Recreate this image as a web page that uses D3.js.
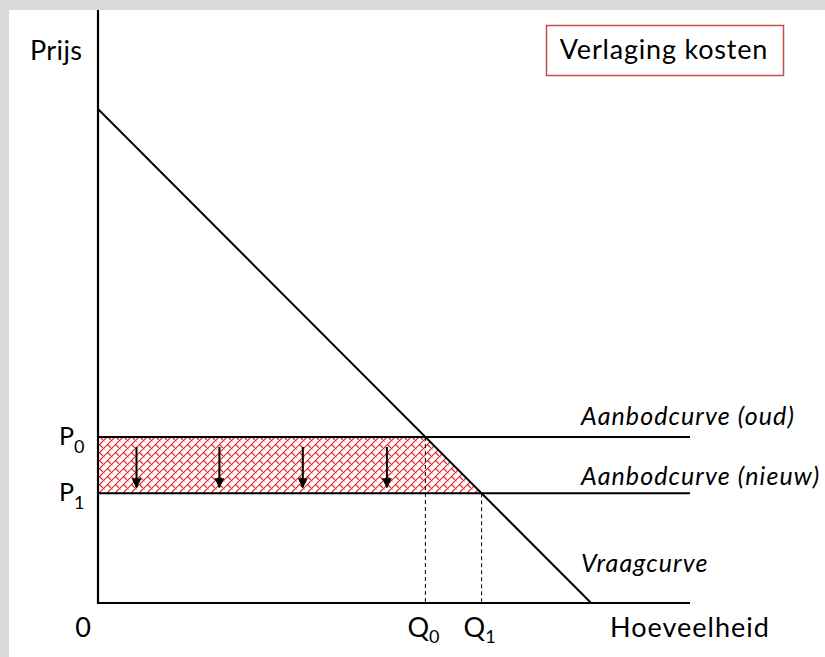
<!DOCTYPE html>
<html><head><meta charset="utf-8">
<script src="https://cdn.jsdelivr.net/npm/d3@7"></script>
<style>html,body{margin:0;padding:0;background:#d9d9d9;}svg{display:block;}</style>
</head><body>
<script>
// --- data (schematic market diagram) ---
const demand = [83.3, 83.3];            // [price intercept, quantity intercept]
const priceLevels = [28, 18.5];           // P0 (old supply), P1 (new supply)
const priceLabels = ["P", "P"];
const priceSubs = ["0", "1"];
const quantityLabels = ["Q", "Q"];
const quantitySubs = ["0", "1"];
const supplyLabels = ["Aanbodcurve (oud)", "Aanbodcurve (nieuw)"];
const demandLabel = "Vraagcurve";
const arrowQ = [6.5, 20.5, 34.6, 48.8];
const axisMax = [100, 100];
const title = "Verlaging kosten";
const yTitle = "Prijs", xTitle = "Hoeveelheid", origin = "0";

const W = 825, H = 657;
const svg = d3.select("body").append("svg").attr("width", W).attr("height", H);
svg.append("rect").attr("x",0).attr("y",0).attr("width",W).attr("height",H).attr("fill","#d9d9d9");
svg.append("rect").attr("x",9).attr("y",10).attr("width",W-9).attr("height",H-10).attr("fill","#fff");

const x = d3.scaleLinear().domain([0, axisMax[0]]).range([98, 690]);
const y = d3.scaleLinear().domain([0, axisMax[1]]).range([603, 10]);

const font = "Lato, 'Open Sans', sans-serif";
const qAt = p => demand[1] * (1 - p / demand[0]);
const Q = priceLevels.map(qAt);

// pattern: diagonal brick
const defs = svg.append("defs");
const pat = defs.append("pattern").attr("id","brick").attr("patternUnits","userSpaceOnUse")
  .attr("width",8).attr("height",8);
pat.append("rect").attr("width",8).attr("height",8).attr("fill","#ffffff");
pat.append("path").attr("d","M-1,9 L9,-1 M3.5,4.5 L8.5,9.5 M-4.5,-3.5 L0.5,1.5")
  .attr("fill","none").attr("stroke","#e02020").attr("stroke-width",1.1);

// hatched area
const area = [[0, priceLevels[0]], [Q[0], priceLevels[0]], [Q[1], priceLevels[1]], [0, priceLevels[1]]];
svg.append("path").attr("d", d3.line().x(d => x(d[0])).y(d => y(d[1]))(area) + "Z")
  .attr("fill","url(#brick)").attr("stroke","none");

// dashed verticals
svg.selectAll("line.drop").data(Q).join("line").attr("class","drop")
  .attr("x1", d => x(d)).attr("x2", d => x(d)).attr("y1", (d,i) => y(priceLevels[i])).attr("y2", y(0))
  .attr("stroke","#000").attr("stroke-width",1).attr("stroke-dasharray","4,3");

// supply lines
svg.selectAll("line.sup").data(priceLevels).join("line").attr("class","sup")
  .attr("x1", x(0)).attr("x2", x(axisMax[0])).attr("y1", d => y(d)).attr("y2", d => y(d))
  .attr("stroke","#000").attr("stroke-width",2);

// demand line
svg.append("line").attr("x1", x(0)).attr("y1", y(demand[0])).attr("x2", x(demand[1])).attr("y2", y(0))
  .attr("stroke","#000").attr("stroke-width",2);

// axes
svg.append("line").attr("x1", x(0)).attr("x2", x(0)).attr("y1", y(axisMax[1])).attr("y2", y(0))
  .attr("stroke","#000").attr("stroke-width",2.2);
svg.append("line").attr("x1", x(0)-1).attr("x2", x(axisMax[0])).attr("y1", y(0)).attr("y2", y(0))
  .attr("stroke","#000").attr("stroke-width",2.2);

// arrows
defs.append("marker").attr("id","ah").attr("viewBox","0 0 10 10").attr("refX",9).attr("refY",5)
  .attr("markerWidth",10).attr("markerHeight",10).attr("markerUnits","userSpaceOnUse").attr("orient","auto")
  .append("path").attr("d","M0,0 L10,5 L0,10 Z").attr("fill","#000");
svg.selectAll("line.arr").data(arrowQ).join("line").attr("class","arr")
  .attr("x1", d => x(d)).attr("x2", d => x(d))
  .attr("y1", y(priceLevels[0]) + 10).attr("y2", y(priceLevels[1]) - 6)
  .attr("stroke","#000").attr("stroke-width",2).attr("marker-end","url(#ah)");

// title box
svg.append("rect").attr("x",546.5).attr("y",25.5).attr("width",237).attr("height",50)
  .attr("fill","#fff").attr("stroke","#c0504d").attr("stroke-width",1.5);
svg.append("text").attr("x",664).attr("y",59).attr("text-anchor","middle")
  .attr("font-family",font).attr("font-size",27).attr("letter-spacing",0.8).attr("fill","#000").text(title);

// axis titles
const t = (tx, ty, s, size, anchor, ls) => svg.append("text").attr("x",tx).attr("y",ty)
  .attr("font-family",font).attr("font-size",size).attr("letter-spacing",ls||0).attr("fill","#000")
  .attr("text-anchor",anchor||"start").text(s);
t(30, 60, yTitle, 27, "start", 0.4);
t(x(0)-15, 637, origin, 27, "middle");
t(610, 637, xTitle, 27, "start", 1);

// price labels with subscripts
priceLevels.forEach((p, i) => {
  const tx = svg.append("text").attr("x", 59).attr("y", y(p) + 8)
    .attr("font-family",font).attr("font-size",25).attr("fill","#000");
  tx.append("tspan").text(priceLabels[i]);
  tx.append("tspan").attr("dy",8).attr("font-size",18).text(priceSubs[i]);
});
Q.forEach((q, i) => {
  const tx = svg.append("text").attr("x", x(q) - 18).attr("y", 637)
    .attr("font-family",font).attr("font-size",27).attr("fill","#000");
  tx.append("tspan").text(quantityLabels[i]);
  tx.append("tspan").attr("dy",6).attr("font-size",18).text(quantitySubs[i]);
});

// curve labels
priceLevels.forEach((p, i) => {
  svg.append("text").attr("x",581).attr("y", y(p) - 12 + (i===1 ? 4 : 0))
    .attr("font-family",font).attr("font-style","italic").attr("font-size",25).attr("letter-spacing",1.1).attr("fill","#000")
    .text(supplyLabels[i]);
});
svg.append("text").attr("x",581).attr("y",572)
  .attr("font-family",font).attr("font-style","italic").attr("font-size",25).attr("letter-spacing",1.1).attr("fill","#000")
  .text(demandLabel);
</script>
</body></html>
